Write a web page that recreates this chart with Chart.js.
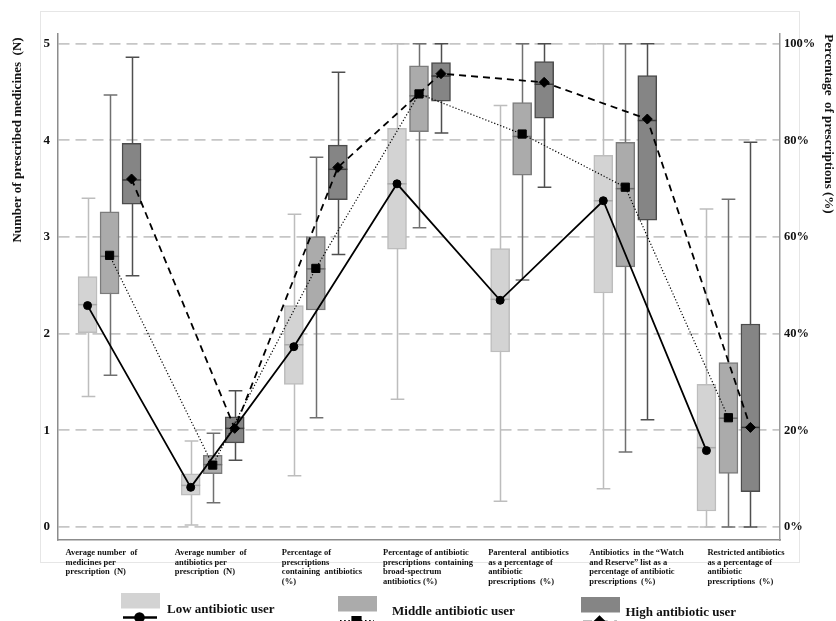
<!DOCTYPE html>
<html>
<head>
<meta charset="utf-8">
<script src="https://cdn.jsdelivr.net/npm/chart.js@4.4.1/dist/chart.umd.min.js"></script>
<style>
  html, body { margin: 0; padding: 0; background: #fff; }
  #wrap { width: 836px; height: 621px; position: relative; }
</style>
</head>
<body>
<div id="wrap"><canvas id="c" width="836" height="621"></canvas></div>
<script>
// Indicator names (one entry per line of the axis label)
const categories = [
  ['Average number  of', 'medicines per', 'prescription  (N)'],
  ['Average number  of', 'antibiotics per', 'prescription  (N)'],
  ['Percentage of', 'prescriptions', 'containing  antibiotics', '(%)'],
  ['Percentage of antibiotic', 'prescriptions  containing', 'broad-spectrum', 'antibiotics (%)'],
  ['Parenteral  antibiotics', 'as a percentage of', 'antibiotic', 'prescriptions  (%)'],
  ['Antibiotics  in the \u201cWatch', 'and Reserve\u201d list as a', 'percentage of antibiotic', 'prescriptions  (%)'],
  ['Restricted antibiotics', 'as a percentage of', 'antibiotic', 'prescriptions  (%)']
];
// first two indicators are counts (left axis), the rest are percentages (right axis)
const isPercent = [false, false, true, true, true, true, true];
const groupNames = ['Low antibiotic user', 'Middle antibiotic user', 'High antibiotic user'];

// Low antibiotic user: whisker low, Q1, median, Q3, whisker high, mean
const lowMin  = [1.35, 0.02, 10.6, 26.4,  5.3,  7.9,  0.0];
const lowQ1   = [2.01, 0.33, 29.5, 57.5, 36.2, 48.4,  3.3];
const lowMed  = [2.30, 0.43, 37.7, 71.0, 47.1, 67.5, 16.4];
const lowQ3   = [2.59, 0.55, 45.8, 82.5, 57.6, 76.9, 29.5];
const lowMax  = [3.40, 0.89, 64.7, 100,  87.2, 100,  65.8];
const lowMean = [2.29, 0.41, 37.3, 71.0, 46.9, 67.5, 15.8];

// Middle antibiotic user
const midMin  = [1.57, 0.25, 22.6, 61.9, 51.1, 15.5,  0.0];
const midQ1   = [2.41, 0.55, 44.9, 81.8, 72.8, 53.8, 11.1];
const midMed  = [2.80, 0.645, 53.4, 89.2, 80.8, 70.0, 22.5];
const midQ3   = [3.26, 0.74, 60.1, 95.4, 87.8, 79.6, 34.0];
const midMax  = [4.47, 0.97, 76.5, 100,  100,  100,  67.8];
const midMean = [2.81, 0.64, 53.5, 89.6, 81.3, 70.3, 22.6];

// High antibiotic user
const highMin  = [2.60, 0.69, 56.4, 81.5, 70.3, 22.2,  0.0];
const highQ1   = [3.34, 0.87, 67.7, 88.1, 84.6, 63.5,  7.3];
const highMed  = [3.59, 1.02, 74.0, 93.3, 91.6, 84.1, 20.6];
const highQ3   = [3.97, 1.14, 79.0, 96.1, 96.3, 93.4, 42.0];
const highMax  = [4.86, 1.41, 94.1, 100,  100,  100,  79.6];
const highMean = [3.60, 1.02, 74.4, 93.8, 92.0, 84.4, 20.6];

// Axis ticks
const leftTicks  = [0, 1, 2, 3, 4, 5];
const rightTicks = [0, 20, 40, 60, 80, 100];

// ---- drawing setup ----
const PCT_PER_UNIT = 20;               // 100% on the right axis lines up with 5 on the left
const toLeft = (v, i) => isPercent[i] ? v / PCT_PER_UNIT : v;
const groupShift = 0.2133;             // distance between neighbouring boxes, in indicator units
const SERIF = '"Liberation Serif", "Times New Roman", serif';

const groups = [
  { min: lowMin, q1: lowQ1, med: lowMed, q3: lowQ3, max: lowMax, mean: lowMean,
    fill: '#d3d3d3', edge: '#bdbdbd', whisker: '#bdbdbd', medianColor: '#a8a8a8',
    lineWidth: 1.8, dash: [], pointStyle: 'circle', radius: 4 },
  { min: midMin, q1: midQ1, med: midMed, q3: midQ3, max: midMax, mean: midMean,
    fill: '#ababab', edge: '#7c7c7c', whisker: '#707070', medianColor: '#6a6a6a',
    lineWidth: 1.2, dash: [1.2, 2], pointStyle: 'rect', radius: 5.8 },
  { min: highMin, q1: highQ1, med: highMed, q3: highQ3, max: highMax, mean: highMean,
    fill: '#858585', edge: '#4c4c4c', whisker: '#4f4f4f', medianColor: '#3a3a3a',
    lineWidth: 1.8, dash: [7, 5], pointStyle: 'rectRot', radius: 5 }
];

const datasets = [];
groups.forEach((g, gi) => {
  datasets.push({
    type: 'bar',
    label: groupNames[gi],
    data: categories.map((_, i) => ({ x: i + (gi - 1) * groupShift, y: [toLeft(g.q1[i], i), toLeft(g.q3[i], i)] })),
    backgroundColor: g.fill,
    borderColor: g.edge,
    borderWidth: 1.5,
    borderSkipped: false,
    grouped: false,
    barThickness: 19,
    xAxisID: 'x', yAxisID: 'y',
    order: 2,
    box: g
  });
});
groups.forEach((g, gi) => {
  datasets.push({
    type: 'line',
    label: groupNames[gi] + ' (mean)',
    data: categories.map((_, i) => ({ x: i + (gi - 1) * groupShift, y: toLeft(g.mean[i], i) })),
    xAxisID: 'x', yAxisID: 'y',
    borderColor: '#000',
    borderWidth: g.lineWidth,
    borderDash: g.dash,
    pointStyle: g.pointStyle,
    pointRadius: g.radius,
    pointBackgroundColor: '#000',
    pointBorderColor: '#000',
    pointBorderWidth: 1,
    fill: false,
    tension: 0,
    order: 1
  });
});

function drawMarker(ctx, style, r, x, y) {
  ctx.save();
  ctx.fillStyle = '#000';
  ctx.strokeStyle = '#000';
  Chart.helpers.drawPoint(ctx, { pointStyle: style, radius: r, rotation: 0, borderWidth: 1 }, x, y);
  ctx.fill();
  ctx.restore();
}

const boxPlotExtras = {
  id: 'boxPlotExtras',
  beforeDraw(chart) {
    const ctx = chart.ctx;
    ctx.save();
    ctx.fillStyle = '#fff';
    ctx.fillRect(0, 0, chart.width, chart.height);
    // light card outline around the plot
    ctx.strokeStyle = '#e6e6e6';
    ctx.lineWidth = 1;
    ctx.strokeRect(40.5, 11.5, 759, 551);
    ctx.restore();
  },
  beforeDatasetDraw(chart, args) {
    const ds = chart.data.datasets[args.index];
    if (!ds.box) return;
    const g = ds.box, y = chart.scales.y, ctx = chart.ctx;
    ctx.save();
    ctx.strokeStyle = g.whisker;
    ctx.lineWidth = 1.5;
    args.meta.data.forEach((bar, i) => {
      const x = Math.round(bar.x) + 0.5;
      const cap = bar.width * 0.36;
      const yLo = y.getPixelForValue(toLeft(g.min[i], i));
      const yHi = y.getPixelForValue(toLeft(g.max[i], i));
      ctx.beginPath();
      ctx.moveTo(x, yLo); ctx.lineTo(x, yHi);
      ctx.moveTo(x - cap, yLo); ctx.lineTo(x + cap, yLo);
      ctx.moveTo(x - cap, yHi); ctx.lineTo(x + cap, yHi);
      ctx.stroke();
    });
    ctx.restore();
  },
  afterDatasetDraw(chart, args) {
    const ds = chart.data.datasets[args.index];
    if (!ds.box) return;
    const g = ds.box, y = chart.scales.y, ctx = chart.ctx;
    ctx.save();
    ctx.strokeStyle = g.medianColor;
    ctx.lineWidth = 1.5;
    args.meta.data.forEach((bar, i) => {
      const yM = y.getPixelForValue(toLeft(g.med[i], i));
      ctx.beginPath();
      ctx.moveTo(bar.x - bar.width / 2, yM);
      ctx.lineTo(bar.x + bar.width / 2, yM);
      ctx.stroke();
    });
    ctx.restore();
  },
  afterDraw(chart) {
    const ctx = chart.ctx, xs = chart.scales.x;
    ctx.save();
    ctx.fillStyle = '#111';

    // indicator labels, left-aligned blocks under each group
    const labelShift = [-44, -38, -34, -36, -34, -36, -21];
    ctx.font = 'bold 8.5px ' + SERIF;
    ctx.textAlign = 'left';
    ctx.textBaseline = 'middle';
    categories.forEach((lines, i) => {
      const x0 = xs.getPixelForValue(i) + labelShift[i];
      lines.forEach((t, k) => ctx.fillText(t, x0, 553 + k * 9.6));
    });

    // axis titles
    ctx.font = 'bold 13px ' + SERIF;
    ctx.textAlign = 'center';
    ctx.save();
    ctx.translate(18, 140);
    ctx.rotate(-Math.PI / 2);
    ctx.fillText('Number of prescribed medicines  (N)', 0, 0);
    ctx.restore();
    ctx.save();
    ctx.translate(828, 124);
    ctx.rotate(Math.PI / 2);
    ctx.fillText('Percentage  of prescriptions (%)', 0, 0);
    ctx.restore();

    // legend: swatch, mean line with marker, name
    const legend = [
      { rx: 121, ry: 593, tx: 167, ty: 609.5, ly: 617.5 },
      { rx: 338, ry: 596, tx: 392, ty: 611.5, ly: 621 },
      { rx: 581, ry: 597, tx: 625.5, ty: 612.5, ly: 622 }
    ];
    legend.forEach((L, gi) => {
      const g = groups[gi];
      ctx.fillStyle = g.fill;
      ctx.fillRect(L.rx, L.ry, 39, 15.5);
      ctx.strokeStyle = '#000';
      ctx.lineWidth = g.lineWidth + 0.8;
      ctx.setLineDash(g.dash.length ? g.dash.map(d => d * 1.3) : []);
      ctx.beginPath();
      ctx.moveTo(L.rx + 2, L.ly);
      ctx.lineTo(L.rx + 36, L.ly);
      ctx.stroke();
      ctx.setLineDash([]);
      drawMarker(ctx, g.pointStyle, g.radius, L.rx + 18.5, L.ly);
      ctx.fillStyle = '#111';
      ctx.font = 'bold 13px ' + SERIF;
      ctx.textAlign = 'left';
      ctx.textBaseline = 'middle';
      ctx.fillText(groupNames[gi], L.tx, L.ty);
    });
    ctx.restore();
  }
};

new Chart(document.getElementById('c'), {
  data: { datasets },
  plugins: [boxPlotExtras],
  options: {
    responsive: false,
    animation: false,
    layout: { padding: { top: 34, left: 0, right: 0, bottom: 0 } },
    plugins: { legend: { display: false }, tooltip: { enabled: false } },
    scales: {
      x: {
        type: 'linear',
        min: -0.5, max: 6.5,
        offset: false,
        grid: { display: false, offset: false },
        border: { display: true, color: '#8c8c8c', width: 1.5 },
        ticks: { display: false },
        afterFit(s) { s.height = 81; }
      },
      y: {
        type: 'linear',
        position: 'left',
        min: -0.135, max: 5.1,
        afterBuildTicks(s) { s.ticks = leftTicks.map(v => ({ value: v })); },
        grid: { color: '#c6c6c6', lineWidth: 1.8, drawTicks: false },
        border: { display: true, color: '#8c8c8c', width: 1.5, dash: [11, 6] },
        ticks: { padding: 8, color: '#111', font: { family: SERIF, weight: 'bold', size: 13 } },
        afterFit(s) { s.width = 58; }
      },
      y2: {
        type: 'linear',
        position: 'right',
        min: -0.135 * PCT_PER_UNIT, max: 5.1 * PCT_PER_UNIT,
        afterBuildTicks(s) { s.ticks = rightTicks.map(v => ({ value: v })); },
        grid: { display: false, drawTicks: false },
        border: { display: true, color: '#9a9a9a', width: 1.5 },
        ticks: { padding: 4, color: '#111', callback: v => v + '%',
                 font: { family: SERIF, weight: 'bold', size: 12.5 } },
        afterFit(s) { s.width = 56; }
      }
    }
  }
});
</script>
</body>
</html>
